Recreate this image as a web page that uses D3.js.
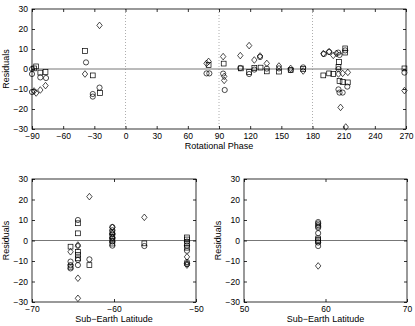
<!DOCTYPE html>
<html>
<head>
<meta charset="utf-8">
<script src="https://cdn.jsdelivr.net/npm/d3@7"></script>
<style>
  body { margin: 0; background: #fff; }
  svg text { font-family: "Liberation Sans", Arial, sans-serif; fill: #000; }
</style>
</head>
<body>
<div class="d3-container"></div>
<script>
// top panel: [rotational phase, residual]
const phaseCircles = [[-90, 0], [-90, -2.5], [-82, -4.2], [-76.5, -4.5], [-90, -11.5], [-38, 3.3], [-31.5, -12.5], [-31.5, -13.8], [-25, -9.3],
    [78, -2.2], [80.7, -2.2], [94, -2.3], [95.5, -10.5], [110.5, 0.5], [119, -2.5], [124, -0.3], [129.5, 6], [136, 0.2], [147.7, 0.3],
    [159, -0.5], [171, 0.8], [191, 7.5], [196, 8.5], [204.8, 8.2], [206, 7], [205, 0], [205, -10.2], [206, -11.8], [209, -11.8], [213.5, -8.8], [211.5, 9.3], [268.5, -1.8]];
const phaseSquares = [[-86, 1.3], [-82, -1.8], [-77, -1.5], [-88, 0.3], [-39, 9], [-31.5, -3.2], [-24.5, -12],
    [80, 2], [94.5, 2.7], [111, 0.3], [119, -1.5], [124, 0.5], [130, 0.7], [136, -1.2], [147.7, -1.3], [159, -0.6], [171, 0],
    [190.4, -3.2], [196, -2.2], [200, -2.5], [205.5, 3.5], [205, 1], [206, -6], [209, -6.5], [214, -6.7], [211.5, 10.3], [211.5, 8.2], [268.5, 0.3]];
const phaseDiamonds = [[-88, -11], [-86, -12], [-82, -10.5], [-77, -8.3], [-39, -2.5], [-25, 21.8],
    [80, 3.8], [78, 2.8], [94, 6.2], [95, -3.7], [95, -5.7], [110.5, 6.7], [119, 11.7], [124, 4.5], [129.5, 6.5], [136, 2.8], [147.7, 1.5],
    [159, 0.3], [171, -1], [190.4, 7.7], [196, 8.7], [200, 6.8], [203, 7.8], [205, -2.5], [209, -2.2], [214, -1.7], [207, -19.2], [212, -29], [268.5, -10.8]];

// bottom left: [sub-earth latitude, residual]
const latSouthCircles = [[-65.3, -10.3], [-65.3, -12], [-65.3, -13.6], [-64.4, 10], [-64.4, -9.5], [-64.4, -12], [-63, -9.2],
    [-60.2, 6.6], [-60.2, 5], [-60.2, 3], [-60.2, 1], [-60.2, -0.5], [-60.2, -2.5], [-56.3, -2.7],
    [-51.1, -0.5], [-51.1, -2.5], [-51.1, -5], [-51.1, -10.5], [-51.1, -11.5]];
const latSouthSquares = [[-65.3, -3], [-65.3, -12.8], [-64.4, 8.4], [-64.4, 3.5], [-64.4, -5.5], [-64.4, -7], [-64.4, -8.7], [-63, -12],
    [-60.2, 4], [-60.2, 2], [-60.2, 0], [-60.2, -1.5], [-56.3, -1.4], [-51.1, 1.5], [-51.1, 0.5], [-51.1, -1.5], [-51.1, -3.5]];
const latSouthDiamonds = [[-65.3, -5.5], [-64.4, -2.2], [-64.4, -2.8], [-64.4, -18.4], [-64.4, -28.2], [-63, 21.4],
    [-60.2, 6.4], [-60.2, 3.5], [-60.2, 1.5], [-56.3, 11.3], [-51.1, -8], [-51.1, -11.2], [-51.1, -12]];

// bottom right: [sub-earth latitude, residual]
const latNorthCircles = [[59.1, 9], [59.1, 8.3], [59.1, 7.5], [59.1, 6.8], [59.1, 6.2], [59.1, 3.6], [59.1, -1], [59.1, -2.7]];
const latNorthSquares = [[59.1, 1], [59.1, 0.3], [59.1, -0.4]];
const latNorthDiamonds = [[59.1, -12.4]];

const phaseTicks = [-90, -60, -30, 0, 30, 60, 90, 120, 150, 180, 210, 240, 270];
const phaseGuides = [0, 90, 180];
const residualTicks = [-30, -20, -10, 0, 10, 20, 30];

const svg = d3.select(".d3-container").append("svg").attr("width", 415).attr("height", 326);

function fmt(v) {
    return String(v).replace("-", "\u2212");
}

// matlab-ish diamond, a little taller than wide
const diamondPath = "M0,-3.3L2.7,0L0,3.3L-2.7,0Z";

function panel(box, xDomain, xTicks, xLabel, sets, guides) {
    const x = d3.scaleLinear().domain(xDomain).range([box.left, box.right]);
    const y = d3.scaleLinear().domain([-30, 30]).range([box.bottom, box.top]);
    const g = svg.append("g");

    // dotted guides
    g.selectAll(".guide").data(guides).join("line")
        .attr("x1", d => x(d)).attr("x2", d => x(d))
        .attr("y1", box.top).attr("y2", box.bottom)
        .attr("stroke", "#999").attr("stroke-width", 0.8).attr("stroke-dasharray", "1,2");

    // zero line
    g.append("line")
        .attr("x1", box.left).attr("x2", box.right)
        .attr("y1", y(0)).attr("y2", y(0))
        .attr("stroke", "#777").attr("stroke-width", 1);

    // markers
    const [circles, squares, diamonds] = sets;
    g.selectAll(".c").data(circles).join("circle")
        .attr("cx", d => x(d[0])).attr("cy", d => y(d[1])).attr("r", 2.6)
        .attr("fill", "none").attr("stroke", "#000").attr("stroke-width", 0.7);
    g.selectAll(".s").data(squares).join("rect")
        .attr("x", d => x(d[0]) - 2.4).attr("y", d => y(d[1]) - 2.4)
        .attr("width", 4.8).attr("height", 4.8)
        .attr("fill", "none").attr("stroke", "#000").attr("stroke-width", 0.7);
    g.selectAll(".d").data(diamonds).join("path")
        .attr("d", diamondPath)
        .attr("transform", d => `translate(${x(d[0])},${y(d[1])})`)
        .attr("fill", "none").attr("stroke", "#000").attr("stroke-width", 0.7);

    // box and inward ticks
    g.append("rect")
        .attr("x", box.left).attr("y", box.top)
        .attr("width", box.right - box.left).attr("height", box.bottom - box.top)
        .attr("fill", "none").attr("stroke", "#000").attr("stroke-width", 0.8);

    g.append("g").attr("transform", `translate(0,${box.bottom})`)
        .call(d3.axisBottom(x).tickValues(xTicks).tickSize(-3).tickPadding(4).tickFormat(fmt))
        .call(a => a.select(".domain").remove());
    g.append("g").attr("transform", `translate(0,${box.top})`)
        .call(d3.axisTop(x).tickValues(xTicks).tickSize(-3).tickFormat(""))
        .call(a => a.select(".domain").remove());
    g.append("g").attr("transform", `translate(${box.left},0)`)
        .call(d3.axisLeft(y).tickValues(residualTicks).tickSize(-3).tickPadding(4).tickFormat(fmt))
        .call(a => a.select(".domain").remove());
    g.append("g").attr("transform", `translate(${box.right},0)`)
        .call(d3.axisRight(y).tickValues(residualTicks).tickSize(-3).tickFormat(""))
        .call(a => a.select(".domain").remove());

    g.selectAll(".tick text").attr("font-size", 8.5).attr("font-family", "Liberation Sans, Arial, sans-serif");
    g.selectAll(".tick line").attr("stroke-width", 0.8);

    g.append("text")
        .attr("x", (box.left + box.right) / 2).attr("y", box.bottom + 20)
        .attr("text-anchor", "middle").attr("font-size", 9).text(xLabel);
    g.append("text")
        .attr("transform", `translate(${box.left - 23},${(box.top + box.bottom) / 2}) rotate(-90)`)
        .attr("text-anchor", "middle").attr("font-size", 9).text("Residuals");
}

panel({left: 32, right: 406, top: 9, bottom: 129}, [-90, 270], phaseTicks, "Rotational Phase",
    [phaseCircles, phaseSquares, phaseDiamonds], phaseGuides);
panel({left: 32, right: 196, top: 179, bottom: 302}, [-70, -50], [-70, -60, -50], "Sub\u2212Earth Latitude",
    [latSouthCircles, latSouthSquares, latSouthDiamonds], []);
panel({left: 244, right: 407, top: 179, bottom: 302}, [50, 70], [50, 60, 70], "Sub\u2212Earth Latitude",
    [latNorthCircles, latNorthSquares, latNorthDiamonds], []);
</script>
</body>
</html>
